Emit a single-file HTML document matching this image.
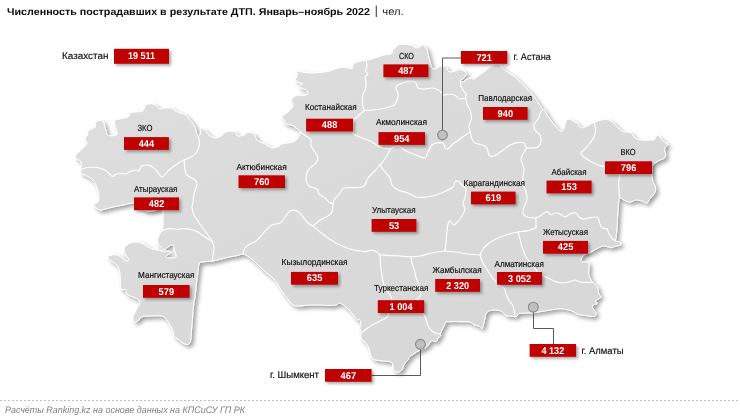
<!DOCTYPE html>
<html lang="ru"><head><meta charset="utf-8"><title>ДТП 2022</title>
<style>
html,body{margin:0;padding:0;background:#fff;}
body{width:740px;height:419px;overflow:hidden;font-family:"Liberation Sans",sans-serif;}
svg{display:block;}
text{font-family:"Liberation Sans",sans-serif;text-rendering:geometricPrecision;}
.lab{fill:#0d0d0d;stroke:#0d0d0d;stroke-width:0.15;font-size:8.8px;}
.city{fill:#0d0d0d;stroke:#0d0d0d;stroke-width:0.15;font-size:9.8px;}
.num{fill:#fff;font-weight:bold;font-size:9.9px;}
.bx{fill:#c00000;}
.br{fill:none;stroke:#fff;stroke-width:1.15;stroke-linejoin:round;stroke-linecap:round;}
</style></head><body>
<svg width="740" height="419" viewBox="0 0 740 419">
<defs>
<filter id="ms" x="-5%" y="-5%" width="110%" height="112%"><feDropShadow dx="2.6" dy="2.6" stdDeviation="2.1" flood-color="#000" flood-opacity="0.39"/></filter>
<filter id="bs" x="-20%" y="-40%" width="140%" height="200%"><feDropShadow dx="2" dy="2" stdDeviation="1.6" flood-color="#000" flood-opacity="0.34"/></filter>
<linearGradient id="mg" x1="0" y1="0" x2="1" y2="1"><stop offset="0" stop-color="#dedede"/><stop offset="1" stop-color="#d6d6d6"/></linearGradient>
</defs>
<rect width="740" height="419" fill="#fff"/>
<g opacity="0.999">
<text x="7" y="15" font-size="10" font-weight="bold" fill="#0d0d0d" textLength="363" lengthAdjust="spacingAndGlyphs">Численность пострадавших в результате ДТП. Январь–ноябрь 2022</text>
<rect x="375.8" y="5.5" width="0.9" height="11.5" fill="#1a1a1a"/>
<text x="382.3" y="15" font-size="10.6" fill="#1a1a1a" textLength="21.4" lengthAdjust="spacingAndGlyphs">чел.</text>
<g filter="url(#ms)"><path d="M75,157.5C74.8,156.6 76.3,154.9 77,154C77.7,153.1 77.7,153.2 79,152C80.3,150.8 83.7,148 85,146.5C86.3,145 87,144.2 87,143C87,141.8 84.9,140.3 85,139C85.1,137.7 87,136.4 87.6,135C88.2,133.6 87.4,131.8 88.6,130.5C89.8,129.2 93.8,128.8 95,127.5C96.2,126.2 94.9,123.7 95.6,122.5C96.3,121.3 97.8,120.7 99,120.5C100.2,120.3 101.9,119.8 103.1,121.5C104.3,123.2 105.3,128.8 106.1,131C106.8,133.2 106.6,134.2 107.6,135C108.6,135.8 110.5,136 112.1,135.9C113.7,135.8 116.3,135.6 117.1,134.6C117.8,133.6 117,132.3 116.6,130C116.2,127.7 114,122.8 114.6,121C115.2,119.2 117.9,119.7 120.2,119C122.5,118.3 126.5,118 128.2,117C129.9,116 128.9,113.8 130.2,113C131.5,112.2 133.9,112.3 136,112C138.1,111.7 141.5,112 143,111C144.5,110 144,107.2 145,106C146,104.8 147.3,104.2 149,104C150.7,103.8 153.5,103.9 155,104.5C156.5,105.1 157.1,106.7 158,107.5C158.9,108.3 159.8,109.1 160.6,109.2C161.4,109.3 161.1,108.4 163,108.2C164.9,108 170,107.7 172,108.2C174,108.7 173.8,110.3 175,111C176.2,111.7 177.3,111.9 179,112.5C180.7,113.1 183.3,113.4 185,114.5C186.7,115.6 187.7,117.5 189,119C190.3,120.5 191.9,121.9 193,123.6C194.1,125.3 195.1,127.3 195.7,129C196.3,130.7 196.3,132.8 196.7,134C197.1,135.2 197.6,136.2 198.2,136.3C198.8,136.4 199.8,135.6 200.2,134.6C200.6,133.6 200.5,131.6 200.7,130.6C200.9,129.6 200.6,128.4 201.5,128.5C202.4,128.6 204.8,129.9 206,131C207.2,132.1 207.6,133.8 209,135C210.4,136.2 212.9,137.7 214.6,138C216.3,138.3 217.7,137.5 219,137C220.3,136.5 221.4,135.8 222.6,135C223.8,134.2 223.9,132.5 226,132C228.1,131.5 233.1,131.1 235,131.8C236.9,132.5 236.1,135.5 237.6,136C239.1,136.5 242.3,135.6 244,135C245.7,134.4 246.3,132.7 248,132.5C249.7,132.3 252.7,133.1 254,134C255.3,134.9 255.3,136.8 256,138C256.7,139.2 256.7,140.1 258,141C259.3,141.9 262,142.6 264,143.6C266,144.6 268.5,146.3 270,147C271.5,147.7 271.5,148.2 273,148C274.5,147.8 277.5,146.7 279,146C280.5,145.3 279.7,144.7 282,144C284.3,143.3 290.3,143 293,142C295.7,141 296.8,139.7 298,138C299.2,136.3 300.3,133.7 300,132C299.7,130.3 297.3,129.1 296,128C294.7,126.9 293.8,126 292,125.2C290.2,124.5 286.7,124.3 285.5,123.5C284.3,122.7 285.1,121.5 284.6,120.5C284.1,119.5 282.5,118.4 282.3,117.5C282.1,116.6 282.7,115.9 283.6,115C284.6,114.1 286.6,113.2 288,112C289.4,110.8 291.2,109.3 292,108C292.8,106.7 293.1,105.2 293,104C292.9,102.8 291.4,101.8 291.5,100.6C291.6,99.4 292.7,97.8 293.6,97C294.5,96.2 295.6,95.8 297,95.6C298.4,95.4 300.3,95.8 302,95.6C303.7,95.4 306,95 307,94.6C308,94.2 308.1,93.7 308,93C307.9,92.3 307.4,91.3 306.6,90.6C305.8,89.9 304.3,89.2 303,88.6C301.7,88 299.5,87.5 299,87C298.5,86.5 299.3,86.2 300,85.6C300.7,85 303.2,84.1 303,83.6C302.8,83.1 300.2,83.2 299,82.6C297.8,82 296.1,80.8 295.6,80C295.1,79.2 295.7,78.9 296,78C296.3,77.1 297.6,75.6 297.6,74.5C297.7,73.4 295.9,72 296.3,71.5C296.7,71 298.6,71.3 300,71.5C301.4,71.7 303,72.3 305,72.6C307,72.8 309.5,73 312,73C314.5,73 317.3,72.8 320,72.5C322.7,72.2 325.7,72 328,71.5C330.3,71 332.3,70.1 334,69.5C335.7,68.9 336.3,68.3 338,68C339.7,67.7 342.3,67.6 344,67.6C345.7,67.6 346.6,67.8 348,68C349.4,68.2 351.5,69 352.3,68.6C353.1,68.2 352.6,66.5 353,65.5C353.4,64.5 353.8,63.5 355,62.8C356.2,62.1 358.2,61.6 360,61.2C361.8,60.8 364.3,60.6 366,60.3C367.7,60 368,60.1 370,59.6C372,59.1 375.3,57.9 378,57C380.7,56.1 383.8,55 386,54.5C388.2,54 390.4,54.4 391.5,53.7C392.6,53 392.1,51.6 392.8,50.5C393.6,49.4 395,48 396,47C397,46 397.7,45.2 399,44.8C400.3,44.3 402.2,44.3 404,44.3C405.8,44.3 408.2,44.5 410,45C411.8,45.5 413.6,46.8 415,47.3C416.4,47.8 417.7,48 418.6,47.8C419.5,47.6 419.9,46.5 420.6,46C421.3,45.5 421.9,44.9 422.6,45C423.3,45.1 424.3,45.7 425,46.5C425.7,47.3 426.5,48.8 427,50C427.5,51.2 427.6,52.3 428,54C428.4,55.7 429.1,58 429.6,60C430.1,62 430.3,64.5 431,66C431.7,67.5 432.6,68.5 433.6,68.8C434.6,69.1 436,68.4 437,68C438,67.6 438.6,66.9 439.6,66.6C440.6,66.3 441.9,65.9 443,66C444.1,66.1 445.2,66.2 446,67C446.8,67.8 447,70.2 448,71C449,71.8 450.3,72.2 452,72C453.7,71.8 456.3,70.3 458,70C459.7,69.7 460.7,69.5 462,70C463.3,70.5 465.5,71.8 466,73C466.5,74.2 465.8,75.8 465,77C464.2,78.2 461.8,79.3 461,80C460.2,80.7 460.1,80.7 460.4,81C460.7,81.3 461.9,82.3 463,82C464.1,81.7 465.8,79.7 467,79C468.2,78.3 468.8,78 470,78C471.2,78 472.7,79.3 474,79C475.3,78.7 476.3,77.2 478,76C479.7,74.8 482,73.5 484,72C486,70.5 487.7,68.3 490,67C492.3,65.7 496,64 498,64C500,64 500.7,65.8 502,67C503.3,68.2 503.7,69.2 506,71C508.3,72.8 513,75.5 516,78C519,80.5 521.3,83.3 524,86C526.7,88.7 529.5,91 532,94C534.5,97 537.2,101.4 539,104C540.8,106.6 542.1,108.5 543,109.5C543.9,110.5 543.8,108.9 544.5,109.8C545.2,110.7 545.8,113 547,115C548.2,117 550.3,119.8 552,122C553.7,124.2 555.4,126.4 557,128C558.6,129.6 560.3,131.6 561.6,131.4C562.9,131.2 563.9,128.7 564.6,127C565.3,125.3 565.3,122.3 566,121C566.7,119.7 567.7,119.2 569,119.3C570.3,119.4 572.5,120.8 574,121.6C575.5,122.4 576.9,123 578,124C579.1,125 579.8,127 580.6,127.6C581.4,128.2 581.6,128.2 583,127.8C584.4,127.4 587.5,126.1 589,125.3C590.5,124.5 591.1,123.7 592,123.2C592.9,122.8 593.5,122.9 594.3,122.6C595.1,122.3 596,121.6 597,121.2C598,120.8 598.5,120.6 600,120.3C601.5,120 604.3,119.5 606,119.5C607.7,119.5 608.5,119.8 610,120.5C611.5,121.2 613.5,122.6 615,124C616.5,125.4 617.7,127.8 619,129C620.3,130.2 621,130.8 623,131.5C625,132.2 629.2,132.1 631,133C632.8,133.9 632.8,135.9 634,137C635.2,138.1 636.3,139 638,139.5C639.7,140 641.3,140.2 644,140.2C646.7,140.2 652,140.3 654,139.7C656,139.1 655.2,137.2 656,136.5C656.8,135.8 658.2,135.3 659,135.6C659.8,135.9 659.6,137.3 660.6,138.5C661.6,139.7 663.8,141.5 665,142.5C666.2,143.5 668,143.8 668,144.7C668,145.5 665.6,146.5 665,147.6C664.4,148.7 664.5,149.9 664.6,151C664.7,152.1 665.6,152.8 665.6,154C665.6,155.2 665.9,156.8 664.6,158C663.3,159.2 659.9,159.8 658,161C656.1,162.2 654,163.5 653,165C652,166.5 652.1,167.5 652,170C651.9,172.5 651.8,177 652.4,180C653,183 655.3,185.7 655.6,188C655.9,190.3 655,192.2 654,194C653,195.8 650.8,197.5 649.6,199C648.4,200.5 648.3,202.7 647,203C645.7,203.3 643.8,201.5 642,201C640.2,200.5 638,199.8 636,200C634,200.2 632,202 630,202C628,202 625.7,200.7 624,200C622.3,199.3 620.5,197 619.6,198C618.7,199 618.7,203 618.4,206C618.1,209 617.8,212.3 617.6,216C617.4,219.7 617.3,224.3 617,228C616.7,231.7 616.2,235.8 616,238C615.8,240.2 614.9,240.3 615.6,241C616.3,241.7 619.2,241.3 620,242C620.8,242.7 621.1,244.3 620.4,245C619.7,245.7 617.6,245.6 616,246C614.4,246.4 613,247.6 611,247.6C609,247.6 606.2,245.9 604,246C601.8,246.1 600.2,247 598,248C595.8,249 593.3,250.8 591,252C588.7,253.2 585.7,253.7 584,255C582.3,256.3 581.2,258.8 581,260C580.8,261.2 581.8,261.6 583,262C584.2,262.4 587,261.4 588,262.4C589,263.4 588.9,266.1 589,268C589.1,269.9 588.3,272 588.6,274C588.9,276 590.4,278.7 591,280C591.6,281.3 591.9,281.5 592.4,282C592.9,282.5 593.4,282.4 594,283C594.6,283.6 595.3,284.6 596,285.5C596.7,286.4 597.6,287.1 598,288.3C598.4,289.6 598,291.6 598.5,293C599,294.4 600.9,295.8 600.9,296.8C600.9,297.8 599.3,298.3 598.5,298.8C597.7,299.3 596.5,299.5 596,300C595.5,300.5 595.4,301.4 595.6,302C595.8,302.6 597.4,302.9 597.2,303.3C597,303.7 595.2,304.1 594.4,304.5C593.6,304.9 592.7,305.3 592.4,306C592.1,306.7 592.3,307.7 592.8,308.6C593.3,309.5 594.7,310.5 595.2,311.4C595.7,312.3 596.1,313.1 596,313.9C595.9,314.7 595.6,315.9 594.8,316.3C594,316.7 592.4,316.5 591,316.4C589.6,316.3 588.5,316 586.3,315.6C584.1,315.2 580.2,314.9 578,314.2C575.8,313.5 574.8,312.2 573,311.4C571.2,310.6 569.2,310.1 567,309.6C564.8,309.1 562.8,308.5 560,308.6C557.2,308.7 553.2,309.5 550,310C546.8,310.5 543.7,311.1 541,311.5C538.3,311.9 536.3,312.4 534,312.6C531.7,312.9 529,312.9 527,313C525,313.1 523.3,313.1 522,313.2C520.7,313.3 520,313.1 519,313.6C518,314.2 517.5,316.1 516.2,316.5C514.9,316.9 512.7,316.2 511,316C509.3,315.8 507.3,316.1 506,315.5C504.7,314.9 504,313.4 503,312.6C502,311.8 501.5,311 500,310.6C498.5,310.2 495.9,309.9 494,310C492.1,310.1 490,310.2 488.6,311C487.2,311.8 486.2,313.3 485.6,314.5C485,315.7 485.3,316.4 485,318C484.7,319.6 484.1,322.2 483.6,324C483.1,325.8 482.8,328.3 482,328.6C481.2,328.9 480.3,326.7 479,326C477.7,325.3 475.5,325.3 474,324.6C472.5,323.9 472.3,322.5 470,322C467.7,321.5 463.3,321.7 460,321.6C456.7,321.5 452.3,321.5 450,321.6C447.7,321.7 446.9,321.4 446,322C445.1,322.6 445,323.8 444.4,325C443.8,326.2 442.9,328 442.2,329.5C441.5,331 440.6,332.9 440.3,334C440.1,335.1 441.1,335.4 440.7,336C440.3,336.6 438.8,336.8 438.2,337.5C437.6,338.2 437.7,339.8 437.2,340.5C436.7,341.2 436.1,341.5 435.2,341.5C434.3,341.5 432.6,340.2 431.6,340.6C430.6,341 429.9,342.9 429.1,344C428.3,345.1 427.4,346.3 426.6,347C425.9,347.7 425.9,347.4 424.6,348C423.3,348.6 420.8,349.7 419,350.6C417.2,351.5 415.5,352.6 414,353.6C412.5,354.6 411,355.5 410,356.6C409,357.7 408.8,358.9 408,360C407.2,361.1 405.8,361.8 405,363C404.2,364.2 403.5,365.8 403,367C402.5,368.2 402.8,369.2 402,370C401.2,370.8 399.8,371.9 398.5,372C397.2,372.1 394.9,371.7 394,370.5C393.1,369.3 393.5,366.4 393,365C392.5,363.6 392.5,362.7 391,362C389.5,361.3 386.5,361.3 384,361C381.5,360.7 378,360.5 376,360C374,359.5 373,359.3 372,358C371,356.7 370.7,354 370,352C369.3,350 369,347.8 368,346C367,344.2 365.2,342.3 364,341C362.8,339.7 361.5,339.3 361,338C360.5,336.7 361.2,334.7 361,333C360.8,331.3 360,329.7 360,328C360,326.3 361.2,324.5 361,323C360.8,321.5 359.7,319.5 359,319C358.3,318.5 357.8,320.5 357,320C356.2,319.5 355,317.3 354,316C353,314.7 352.2,313.3 351,312C349.8,310.7 348.5,309.3 347,308C345.5,306.7 343.3,304.8 342,304C340.7,303.2 340,302.8 339,303C338,303.2 337.5,304.6 336,305C334.5,305.4 332.7,305.4 330,305.4C327.3,305.4 323.3,305.1 320,305C316.7,304.9 312.8,304.9 310,305C307.2,305.1 305.2,305.4 303,305.6C300.8,305.8 298.8,306.3 297,306C295.2,305.7 293.5,305.2 292,304C290.5,302.8 289.5,300.8 288,299C286.5,297.2 284.3,294.8 283,293C281.7,291.2 281,289.7 280,288C279,286.3 278.2,284.7 277,283C275.8,281.3 274.7,279.7 273,278C271.3,276.3 269,274.7 267,273C265,271.3 263,269.8 261,268C259,266.2 257,263.8 255,262C253,260.2 251,258.3 249,257C247,255.7 245,254.2 243,254C241,253.8 239.3,255.1 237,255.6C234.7,256.1 231.7,256.4 229,257C226.3,257.6 223.8,258.3 221,259C218.2,259.7 215.6,260.5 212.4,261C209.2,261.5 204.2,261.5 202,262C199.8,262.5 199.8,261.8 199,264C198.2,266.2 198,271.2 197.5,275C197,278.8 196.4,283.3 196,287C195.6,290.7 195.4,293.8 195,297C194.6,300.2 193.9,302.5 193.5,306C193.1,309.5 192.8,314 192.5,318C192.2,322 191.8,326.2 191.5,330C191.2,333.8 191.1,338.6 190.5,341C189.9,343.4 189.2,344.1 188,344.4C186.8,344.7 184.7,343.9 183,343C181.3,342.1 179.5,340.2 178,339C176.5,337.8 174.8,337.3 174,336C173.2,334.7 173.7,332.8 173,331C172.3,329.2 171,326.8 170,325C169,323.2 168.3,321.5 167,320C165.7,318.5 164.8,316.7 162,316C159.2,315.3 153.5,315.8 150,316C146.5,316.2 142.8,316.3 141,317C139.2,317.7 140.2,319.2 139,320C137.8,320.8 135,322.5 134,322C133,321.5 132.8,318.5 133,317C133.2,315.5 134.3,314.5 135,313C135.7,311.5 136.2,309.5 137,308C137.8,306.5 139.3,305.3 139.6,304C139.9,302.7 140.1,301.2 139,300C137.9,298.8 135,298 133,297C131,296 128.2,295.2 127,294C125.8,292.8 127,290.4 126,289.6C125,288.8 121.9,290.6 121,289C120.1,287.4 120.7,282.7 120.5,280C120.3,277.3 120.4,275.2 120,273C119.6,270.8 118.7,268.4 118,267C117.3,265.6 116.8,265.4 116,264.6C115.2,263.8 114.2,262.9 113,262C111.8,261.1 109.8,259.9 109,259C108.2,258.1 108,257.3 108.5,256.6C109,255.9 110.6,255.3 112,255C113.4,254.7 115.5,254.7 117,255C118.5,255.3 119.8,256.2 121,257C122.2,257.8 123,259.3 124.1,260C125.2,260.7 126.8,261.1 127.6,261C128.4,260.9 129.3,260.4 129.1,259.6C128.9,258.8 127.3,257.2 126.6,256C125.8,254.8 125,253.8 124.6,252.6C124.2,251.4 123.8,249.8 124.1,248.6C124.3,247.4 124.9,246.6 126.1,245.6C127.3,244.6 129.3,243.2 131.1,242.6C132.9,242 135.1,241.8 137.1,242C139.1,242.2 141.4,243.2 143.1,244C144.8,244.8 145.6,245.8 147.1,246.6C148.6,247.4 150.4,248.4 152.1,249C153.8,249.6 155.7,249.6 157.2,249.9C158.7,250.2 159.9,250.8 161.2,251C162.5,251.2 163.6,251.2 165.2,251.3C166.8,251.4 170,251.2 170.7,251.6C171.4,252 169.9,253.3 169.2,254C168.4,254.7 166.5,255.4 166.2,256C165.9,256.6 166.4,257.3 167.2,257.6C168,257.9 169.9,258 171.2,258C172.5,258 174.4,258.1 175.2,257.6C176,257.1 176.4,256.3 176.2,255C176,253.7 174.6,251.6 174.2,250C173.8,248.4 174.2,246.4 173.7,245.6C173.2,244.8 172.3,244.7 171.2,245C170.1,245.3 168.4,246.8 167.2,247.6C166,248.4 165.3,249.8 164.2,249.6C163.1,249.4 161.7,247.6 160.7,246.6C159.7,245.6 158.7,244.7 158.2,243.6C157.7,242.5 157.4,241.6 157.7,240C157.9,238.4 158.9,235.6 159.7,234C160.5,232.4 162.1,231.2 162.7,230.5C163.2,229.8 162.9,233.1 163,230C163.1,226.9 163.5,215.5 163,212C162.5,208.5 161.7,209.2 160,209C158.3,208.8 155.3,210.7 153,211C150.7,211.3 148.2,211.7 146,211C143.8,210.3 142,208.3 140,207C138,205.7 136.8,203.3 134,203C131.2,202.7 126.5,204.3 123,205C119.5,205.7 116,206.3 113,207C110,207.7 107.2,208.5 105,209C102.8,209.5 101.7,210.3 100,210C98.3,209.7 96,208 95,207C94,206 93.5,204.8 94,204C94.5,203.2 97.2,203.3 98,202C98.8,200.7 99.2,198.3 99,196C98.8,193.7 97.7,190.2 97,188C96.3,185.8 95.8,184.4 95,183C94.2,181.6 93.3,180.8 92,179.6C90.7,178.4 88.7,177 87,176C85.3,175 82.9,174.6 81.8,173.5C80.7,172.4 80.5,170.8 80.5,169.5C80.5,168.2 81.4,167.3 81.5,166C81.6,164.7 81.6,162.6 81,161.5C80.4,160.4 79,160.2 78,159.5C77,158.8 75.2,158.4 75,157.5Z" fill="url(#mg)" stroke="#fff" stroke-width="1" stroke-linejoin="round"/></g>
<g class="br">
<path d="M198.2,136.3C198.4,137.1 199.2,139.1 199.3,141C199.4,142.9 199.1,146 198.5,148C197.9,150 197.2,151.5 196,153C194.8,154.5 193,155.8 191,157C189,158.2 185.2,159.5 184,160"/>
<path d="M80.5,169.5C81.6,169.2 84.2,167.8 87,167.5C89.8,167.2 94,167.1 97,167.5C100,167.9 102.8,168.8 105,170C107.2,171.2 108.7,173.4 110,174.5C111.3,175.6 112,176.6 113,176.5C114,176.4 114.5,174.5 116,174C117.5,173.5 120.3,173.5 122,173.5C123.7,173.5 124.7,174.3 126,174C127.3,173.7 128.3,172.2 130,171.5C131.7,170.8 134.5,170.1 136,170C137.5,169.9 138.2,171.6 139,171C139.8,170.4 139.8,167.5 141,166.5C142.2,165.5 144.3,165.1 146,165C147.7,164.9 149.2,165 151,166C152.8,167 155.2,169.2 157,171C158.8,172.8 160,177.2 162,177C164,176.8 166.5,172.2 169,170C171.5,167.8 174.5,165.7 177,164C179.5,162.3 182.8,160.7 184,160"/>
<path d="M184,160C184.2,161.7 184.5,167.5 185,170C185.5,172.5 185.3,173.3 187,175C188.7,176.7 193.3,178.5 195,180C196.7,181.5 197.2,181.7 197,184C196.8,186.3 194.7,191 194,194C193.3,197 193.3,199.7 193,202C192.7,204.3 191.8,205.8 192,208C192.2,210.2 193,212.8 194,215C195,217.2 196.7,219 198,221C199.3,223 200.3,224.7 202,227C203.7,229.3 206.3,232.7 208,235C209.7,237.3 211.3,240 212,241"/>
<path d="M163,230C164.2,229.8 167.5,228.7 170,228.6C172.5,228.5 175.8,229.4 178,229.4C180.2,229.4 181,228.6 183,228.6C185,228.6 187.8,229 190,229.4C192.2,229.8 194,230.1 196,231C198,231.9 200,233.7 202,235C204,236.3 206.3,238 208,239C209.7,240 211.3,240.7 212,241"/>
<path d="M212,241C212.3,242 213.8,244.7 214,247C214.2,249.3 213.3,252.7 213,255C212.7,257.3 212.5,260 212.4,261"/>
<path d="M300,132C301,132.7 304.2,134.7 306,136C307.8,137.3 310.2,138.3 311,140C311.8,141.7 310.3,144 311,146C311.7,148 313.8,150 315,152C316.2,154 318,156 318,158C318,160 316.3,162.3 315,164C313.7,165.7 311.3,166.5 310,168C308.7,169.5 307.7,171.2 307,173C306.3,174.8 305.8,177 306,179C306.2,181 307.2,183.7 308,185C308.8,186.3 309.5,186.3 311,187C312.5,187.7 315.7,187.8 317,189C318.3,190.2 317.7,192.5 319,194C320.3,195.5 323.3,196.7 325,198C326.7,199.3 327.7,201 329,202C330.3,203 332.3,203.7 333,204"/>
<path d="M333,204C332.8,205.3 332.8,210 332,212C331.2,214 330,214.7 328,216C326,217.3 322.5,218.3 320,220C317.5,221.7 314.2,225 313,226"/>
<path d="M313,226C312.2,225.5 309.7,224.5 308,223C306.3,221.5 304.8,219 303,217C301.2,215 299.2,212 297,211C294.8,210 292,210 290,211C288,212 286.7,215 285,217C283.3,219 282.2,221.7 280,223C277.8,224.3 274.3,223.8 272,225C269.7,226.2 268,228 266,230C264,232 261.7,235.2 260,237C258.3,238.8 257.7,239.8 256,241C254.3,242.2 251.8,242.8 250,244C248.2,245.2 246.2,246.3 245,248C243.8,249.7 243.3,253 243,254"/>
<path d="M313,226C314.2,227 317.5,230 320,232C322.5,234 325,236 328,238C331,240 334.3,242.2 338,244C341.7,245.8 346.3,247.8 350,249C353.7,250.2 357.3,250.6 360,251C362.7,251.4 364,251.8 366,251.6C368,251.4 370.2,249.9 372,250C373.8,250.1 375.7,251.2 377,252C378.3,252.8 379.5,254.5 380,255"/>
<path d="M380,255C382.3,255.1 390.7,255.4 394,255.6C397.3,255.8 397.2,255.8 400,256C402.8,256.2 407.7,256.6 411,256.6C414.3,256.6 416.5,256.6 420,256C423.5,255.4 427.8,253.8 432,253C436.2,252.2 442.8,251.3 445,251"/>
<path d="M380,255C380.1,256.3 380.1,260.1 380.3,262.6C380.5,265.1 380.8,267.4 381.2,270C381.6,272.6 382,275.5 382.5,278C383,280.5 383.1,282.7 384,285C384.9,287.3 386.7,289.6 388,292C389.3,294.4 391.5,297.1 392,299.6C392.5,302.1 391.6,304.8 391,307C390.4,309.2 389.2,311.4 388.6,313C388,314.6 388.7,315.4 387.6,316.6C386.5,317.8 384.6,318.6 382,320C379.4,321.4 374.8,323.3 372,325C369.2,326.7 366.8,328.7 365,330C363.2,331.3 361.7,332.5 361,333"/>
<path d="M411,256.6C411.2,257.7 411.4,260.6 412,263C412.6,265.4 413.8,268.3 414.5,271C415.2,273.7 415.9,277 416.5,279C417.1,281 417.6,281.3 418.1,283C418.6,284.7 419.1,287.2 419.6,289C420.1,290.8 421.2,292.6 421.1,294C421,295.4 419.7,296.5 419,297.5C418.3,298.5 417.2,298.4 417.1,300C417,301.6 417.5,304.8 418.5,307C419.5,309.2 421.9,310.8 423.2,313C424.5,315.2 425.4,317.8 426.2,320C427,322.2 427,324.2 428,326C429,327.8 430.5,329.8 432,331C433.5,332.2 435.6,333 437,333.5C438.4,334 439.8,333.9 440.3,334"/>
<path d="M366,60.3C366.2,61.2 367.1,64.2 367,66C366.9,67.8 365.4,69.7 365.6,71C365.8,72.3 368.1,73 368,74C367.9,75 365.3,75.5 365,77C364.7,78.5 365.9,81 366,83C366.1,85 366.1,87.2 365.6,89C365.1,90.8 363.5,92.2 363,94C362.5,95.8 362.4,97.8 362.4,100C362.4,102.2 362.6,105.2 363,107C363.4,108.8 364.2,109.9 364.5,110.5"/>
<path d="M364.5,110.5C363.8,111.1 361.4,112.8 360,114C358.6,115.2 357,117 356,118C355,119 354.5,118 354,120C353.5,122 353.1,127.7 353,130C352.9,132.3 352.4,132.8 353.6,134C354.8,135.2 357.3,135.8 360,137C362.7,138.2 367,139.5 370,141C373,142.5 376,144.8 378,146C380,147.2 380,147.5 382,148C384,148.5 388.7,148.8 390,149"/>
<path d="M364.5,110.5C366.1,110.4 370.4,110.4 374,110C377.6,109.6 382.7,108.8 386,108C389.3,107.2 392.2,106.3 394,105C395.8,103.7 396.3,101.8 397,100C397.7,98.2 398.2,96 398,94C397.8,92 396,89.5 396,88C396,86.5 396.3,86 398,85C399.7,84 403.7,82.7 406,82C408.3,81.3 410.3,80.8 412,81C413.7,81.2 415,81.8 416,83C417,84.2 416.7,87 418,88C419.3,89 421.5,89 424,89C426.5,89 430.3,87.7 433,88C435.7,88.3 438.2,89.8 440,91C441.8,92.2 442.3,94.5 444,95C445.7,95.5 448,93.8 450,94C452,94.2 454.5,95.2 456,96C457.5,96.8 457.4,98.7 459,99C460.6,99.3 464.5,98.2 465.6,98"/>
<path d="M460.4,81C460.5,81.8 460.6,84.5 461,86C461.4,87.5 462.2,88.7 463,90C463.8,91.3 465.6,92.7 466,94C466.4,95.3 465.7,97.3 465.6,98"/>
<path d="M465.6,98C465.8,99 466.3,102 467,104C467.7,106 469.2,107.7 470,110C470.8,112.3 471.8,115.3 471.6,118C471.4,120.7 469.2,123.7 469,126C468.8,128.3 470.2,131 470.4,132"/>
<path d="M390,149C391.3,148.5 395.3,145.7 398,146C400.7,146.3 403,149.5 406,151C409,152.5 412.8,153.8 416,155C419.2,156.2 423,158.5 425,158C427,157.5 426.8,154.2 428,152C429.2,149.8 430.5,146.5 432,145C433.5,143.5 435.2,143.3 437,143C438.8,142.7 441.7,142.2 443,143C444.3,143.8 444.2,147 445,148C445.8,149 446.7,149.7 448,149C449.3,148.3 451,145.7 453,144C455,142.3 457.7,140.7 460,139C462.3,137.3 465.3,135.2 467,134C468.7,132.8 469.8,132.3 470.4,132"/>
<path d="M390,149C389.7,149.8 389,152.2 388,154C387,155.8 385.3,158.2 384,160C382.7,161.8 380.7,164.2 380,165"/>
<path d="M380,165C379,166.2 376,169.8 374,172C372,174.2 369.7,175.7 368,178C366.3,180.3 366,184.4 364,186C362,187.6 359.3,187.3 356,187.6C352.7,187.9 346.7,187.1 344,188C341.3,188.9 341.7,191 340,193C338.3,195 335.2,198.2 334,200C332.8,201.8 333.2,203.3 333,204"/>
<path d="M380,165C380.8,166.2 383.3,169.8 385,172C386.7,174.2 388.8,175.8 390,178C391.2,180.2 390.7,183 392,185C393.3,187 395.3,188.7 398,190C400.7,191.3 405,191.8 408,193C411,194.2 413,196.3 416,197C419,197.7 422.7,197.3 426,197C429.3,196.7 432.7,196 436,195C439.3,194 443.2,192.3 446,191C448.8,189.7 451.5,188.5 453,187C454.5,185.5 454.2,183 455,182C455.8,181 456.8,180.5 458,181C459.2,181.5 460.7,183.7 462,185C463.3,186.3 465.5,187 466,189C466.5,191 465.5,194.5 465,197C464.5,199.5 463,202 463,204C463,206 465.2,207 465,209C464.8,211 463.2,214 462,216C460.8,218 459.3,219.5 458,221C456.7,222.5 455.3,225 454,225C452.7,225 451,221.2 450,221C449,220.8 448.5,222.2 448,224C447.5,225.8 447.3,229 447,232C446.7,235 446.3,238.8 446,242C445.7,245.2 445.2,249.5 445,251"/>
<path d="M470.4,132C470.7,133.2 471.2,137.2 472,139C472.8,140.8 473.3,142 475,143C476.7,144 480,144.2 482,145C484,145.8 485.8,146.3 487,148C488.2,149.7 487.8,153.7 489,155C490.2,156.3 491.8,156.7 494,156C496.2,155.3 499.3,152.8 502,151C504.7,149.2 507.3,146.4 510,145C512.7,143.6 515.7,142.7 518,142.4C520.3,142.1 522.6,142.1 524,143C525.4,143.9 526,147.2 526.4,148"/>
<path d="M543,109.5C542.6,110 541.2,111.2 540.5,112.5C539.8,113.8 539.7,115.6 539,117C538.3,118.4 537.3,119.8 536.5,121C535.7,122.2 534.2,123 534,124.5C533.8,126 534,128.2 535,130C536,131.8 539,133.2 540,135C541,136.8 541.3,139 541,141C540.7,143 539.5,145.8 538,147C536.5,148.2 533.9,147.8 532,148C530.1,148.2 527.3,148 526.4,148"/>
<path d="M526.4,148C525.8,149 523.9,152 523,154C522.1,156 520.8,157.7 521,160C521.2,162.3 523.7,165.3 524,168C524.3,170.7 523.2,173.3 523,176C522.8,178.7 522.5,181.3 523,184C523.5,186.7 525.3,189.3 526,192C526.7,194.7 527.3,197.5 527,200C526.7,202.5 524.7,204.8 524,207C523.3,209.2 522.5,211.3 523,213C523.5,214.7 524.8,216.2 527,217C529.2,217.8 534.5,217.8 536,218"/>
<path d="M594.3,122.6C594.5,123.8 595.6,127.6 595.6,130C595.6,132.4 594.9,134.8 594,137C593.1,139.2 591.5,141 590,143C588.5,145 586.5,147.3 585,149C583.5,150.7 581.2,151.7 581,153C580.8,154.3 582.5,155.7 584,157C585.5,158.3 587.7,159.7 590,161C592.3,162.3 595.5,164 598,165C600.5,166 601.5,165.8 605,167C608.5,168.2 616.7,169.5 619,172C621.3,174.5 618.6,179 618.6,182C618.6,185 618.8,187.3 619,190C619.2,192.7 619.5,196.7 619.6,198"/>
<path d="M536,218C536.7,217.7 538.7,216.8 540,216C541.3,215.2 542.7,213.7 544,213C545.3,212.3 546.8,211.7 548,212C549.2,212.3 549.8,214.8 551,215C552.2,215.2 553.5,213.2 555,213C556.5,212.8 558.3,213.3 560,214C561.7,214.7 563.3,217 565,217C566.7,217 568.2,214.7 570,214C571.8,213.3 574.5,212.5 576,213C577.5,213.5 577.8,216 579,217C580.2,218 581.5,218.8 583,219C584.5,219.2 586.2,218.3 588,218C589.8,217.7 592.3,217 594,217C595.7,217 597,216.8 598,218C599,219.2 599.3,222.3 600,224C600.7,225.7 600.8,227.2 602,228C603.2,228.8 605.8,228 607,229C608.2,230 608,232.3 609,234C610,235.7 611.9,237.8 613,239C614.1,240.2 615.2,240.7 615.6,241"/>
<path d="M536,218 L536,228"/>
<path d="M536,228C534.7,228.4 531,229.9 528,230.6C525,231.3 521.7,231.3 518,232C514.3,232.7 509.7,233.8 506,235C502.3,236.2 499,237.5 496,239C493,240.5 490.2,242.3 488,244C485.8,245.7 484.3,247.2 483,249C481.7,250.8 480.5,254 480,255"/>
<path d="M445,251C446.8,251.2 452.2,251.5 456,252C459.8,252.5 464,253.5 468,254C472,254.5 478,254.8 480,255"/>
<path d="M480,255C480.3,256 481,258.8 482,261C483,263.2 484.7,265.8 486,268C487.3,270.2 488.5,271.8 490,274C491.5,276.2 493.3,279 495,281C496.7,283 498.5,284.8 500,286C501.5,287.2 503,286.7 504,288C505,289.3 505.4,292.3 506,294C506.6,295.7 507,296.7 507.7,298C508.4,299.3 509.2,300.8 510,302C510.8,303.2 512.1,303.8 512.7,305C513.3,306.2 513.4,307.5 513.7,309C514,310.5 514.3,312.8 514.7,314C515.1,315.2 516,316.1 516.2,316.5"/>
<path d="M518,232C518.3,233.2 519.3,236.5 520,239C520.7,241.5 521,244 522,247C523,250 524.2,253.8 526,257C527.8,260.2 530.8,263.3 533,266C535.2,268.7 536.8,271.2 539,273C541.2,274.8 543.5,275.7 546,277C548.5,278.3 551.3,280 554,281C556.7,282 559.5,282.8 562,283C564.5,283.2 566.8,282.5 569,282C571.2,281.5 573.2,280 575,280C576.8,280 577.8,281.6 580,282C582.2,282.4 585.9,282.4 588,282.4C590.1,282.4 591.7,282.1 592.4,282"/>
</g>
<g fill="none" stroke="#5a5a5a" stroke-width="1">
<path d="M460.9,58H442.5V130"/>
<path d="M420.5,349V375.5H371.6"/>
<path d="M533.5,312V328.5H553.5V344"/>
</g>
<g fill="#bfbfbf" stroke="#8a8a8a" stroke-width="1.1">
<circle cx="442.5" cy="135" r="4.9"/>
<circle cx="420.4" cy="344.3" r="4.9"/>
<circle cx="533.3" cy="307.2" r="4.9"/>
</g>
<g filter="url(#bs)">
<rect class="bx" x="124" y="137.1" width="44.9" height="12.8"/>
<rect class="bx" x="134" y="197.4" width="45" height="12.8"/>
<rect class="bx" x="238.5" y="175.3" width="46.5" height="12.8"/>
<rect class="bx" x="306.1" y="118.7" width="46.9" height="12.8"/>
<rect class="bx" x="383.4" y="64.4" width="45" height="12.8"/>
<rect class="bx" x="378.5" y="132.1" width="46.5" height="12.8"/>
<rect class="bx" x="483" y="107" width="44.6" height="12.8"/>
<rect class="bx" x="546.5" y="180.6" width="45.1" height="12.8"/>
<rect class="bx" x="605" y="161.3" width="47" height="12.8"/>
<rect class="bx" x="471" y="191.6" width="44.6" height="12.8"/>
<rect class="bx" x="371.6" y="219" width="44.8" height="12.8"/>
<rect class="bx" x="543" y="240.9" width="45" height="12.8"/>
<rect class="bx" x="497" y="272" width="45" height="12.8"/>
<rect class="bx" x="435.2" y="279" width="44.8" height="12.8"/>
<rect class="bx" x="377.8" y="300.2" width="46.4" height="12.8"/>
<rect class="bx" x="291" y="271.9" width="47" height="12.8"/>
<rect class="bx" x="143" y="285" width="46.6" height="12.8"/>
<rect class="bx" x="460.9" y="51" width="46.4" height="12.8"/>
<rect class="bx" x="325" y="369" width="46.6" height="12.8"/>
<rect class="bx" x="529.6" y="344" width="46.5" height="12.8"/>
<rect class="bx" x="114" y="48.8" width="55" height="15"/>
</g>
<text class="num" x="138.7" y="147" font-size="9.9" textLength="15.5" lengthAdjust="spacingAndGlyphs">444</text>
<text class="num" x="148.8" y="207" font-size="9.9" textLength="15.5" lengthAdjust="spacingAndGlyphs">482</text>
<text class="num" x="254" y="185" font-size="9.9" textLength="15.5" lengthAdjust="spacingAndGlyphs">760</text>
<text class="num" x="321.8" y="128" font-size="9.9" textLength="15.5" lengthAdjust="spacingAndGlyphs">488</text>
<text class="num" x="398.2" y="74" font-size="9.9" textLength="15.5" lengthAdjust="spacingAndGlyphs">487</text>
<text class="num" x="394" y="142" font-size="9.9" textLength="15.5" lengthAdjust="spacingAndGlyphs">954</text>
<text class="num" x="497.6" y="117" font-size="9.9" textLength="15.5" lengthAdjust="spacingAndGlyphs">940</text>
<text class="num" x="561.3" y="190" font-size="9.9" textLength="15.5" lengthAdjust="spacingAndGlyphs">153</text>
<text class="num" x="620.8" y="171" font-size="9.9" textLength="15.5" lengthAdjust="spacingAndGlyphs">796</text>
<text class="num" x="485.6" y="201" font-size="9.9" textLength="15.5" lengthAdjust="spacingAndGlyphs">619</text>
<text class="num" x="388.9" y="229" font-size="9.9" textLength="10.3" lengthAdjust="spacingAndGlyphs">53</text>
<text class="num" x="557.8" y="250" font-size="9.9" textLength="15.5" lengthAdjust="spacingAndGlyphs">425</text>
<text class="num" x="508.1" y="282" font-size="9.9" textLength="22.9" lengthAdjust="spacingAndGlyphs">3 052</text>
<text class="num" x="446.2" y="289" font-size="9.9" textLength="22.9" lengthAdjust="spacingAndGlyphs">2 320</text>
<text class="num" x="389.6" y="310" font-size="9.9" textLength="22.9" lengthAdjust="spacingAndGlyphs">1 004</text>
<text class="num" x="306.8" y="281" font-size="9.9" textLength="15.5" lengthAdjust="spacingAndGlyphs">635</text>
<text class="num" x="158.6" y="295" font-size="9.9" textLength="15.5" lengthAdjust="spacingAndGlyphs">579</text>
<text class="num" x="476.4" y="61" font-size="9.9" textLength="15.5" lengthAdjust="spacingAndGlyphs">721</text>
<text class="num" x="340.6" y="379" font-size="9.9" textLength="15.5" lengthAdjust="spacingAndGlyphs">467</text>
<text class="num" x="541.4" y="354" font-size="9.9" textLength="22.9" lengthAdjust="spacingAndGlyphs">4 132</text>
<text class="num" x="127.9" y="59" font-size="10.3" textLength="27.2" lengthAdjust="spacingAndGlyphs">19 511</text>
<text class="lab" x="137.4" y="131" textLength="15" lengthAdjust="spacingAndGlyphs">ЗКО</text>
<text class="lab" x="134" y="192" textLength="43.4" lengthAdjust="spacingAndGlyphs">Атырауская</text>
<text class="lab" x="236.6" y="170" textLength="50.1" lengthAdjust="spacingAndGlyphs">Актюбинская</text>
<text class="lab" x="305" y="110" textLength="51.6" lengthAdjust="spacingAndGlyphs">Костанайская</text>
<text class="lab" x="399" y="59" textLength="15" lengthAdjust="spacingAndGlyphs">СКО</text>
<text class="lab" x="376" y="125" textLength="51" lengthAdjust="spacingAndGlyphs">Акмолинская</text>
<text class="lab" x="478.3" y="101" textLength="53.9" lengthAdjust="spacingAndGlyphs">Павлодарская</text>
<text class="lab" x="551.5" y="175" textLength="35.1" lengthAdjust="spacingAndGlyphs">Абайская</text>
<text class="lab" x="620.4" y="155" textLength="15.2" lengthAdjust="spacingAndGlyphs">ВКО</text>
<text class="lab" x="463.6" y="186" textLength="61.4" lengthAdjust="spacingAndGlyphs">Карагандинская</text>
<text class="lab" x="372" y="213" textLength="43.6" lengthAdjust="spacingAndGlyphs">Улытауская</text>
<text class="lab" x="543" y="235" textLength="45" lengthAdjust="spacingAndGlyphs">Жетысуская</text>
<text class="lab" x="494.6" y="267" textLength="49.4" lengthAdjust="spacingAndGlyphs">Алматинская</text>
<text class="lab" x="432.4" y="273" textLength="49.2" lengthAdjust="spacingAndGlyphs">Жамбылская</text>
<text class="lab" x="374" y="291" textLength="54.4" lengthAdjust="spacingAndGlyphs">Туркестанская</text>
<text class="lab" x="281.6" y="265" textLength="66" lengthAdjust="spacingAndGlyphs">Кызылординская</text>
<text class="lab" x="138" y="278" textLength="56.4" lengthAdjust="spacingAndGlyphs">Мангистауская</text>
<text class="city" x="513.5" y="60" textLength="37.3" lengthAdjust="spacingAndGlyphs">г. Астана</text>
<text class="city" x="270" y="378" textLength="49" lengthAdjust="spacingAndGlyphs">г. Шымкент</text>
<text class="city" x="581.5" y="354" textLength="42" lengthAdjust="spacingAndGlyphs">г. Алматы</text>
<text class="city" x="62" y="59" textLength="46.4" lengthAdjust="spacingAndGlyphs">Казахстан</text>
<line x1="0" y1="400.5" x2="740" y2="400.5" stroke="#bfbfbf" stroke-width="1" stroke-dasharray="2,2"/>
<text x="5" y="413" font-size="9.5" font-style="italic" fill="#7f7f7f" textLength="240" lengthAdjust="spacingAndGlyphs">Расчёты Ranking.kz на основе данных на КПСиСУ ГП РК</text>
</g>
</svg>
</body></html>
